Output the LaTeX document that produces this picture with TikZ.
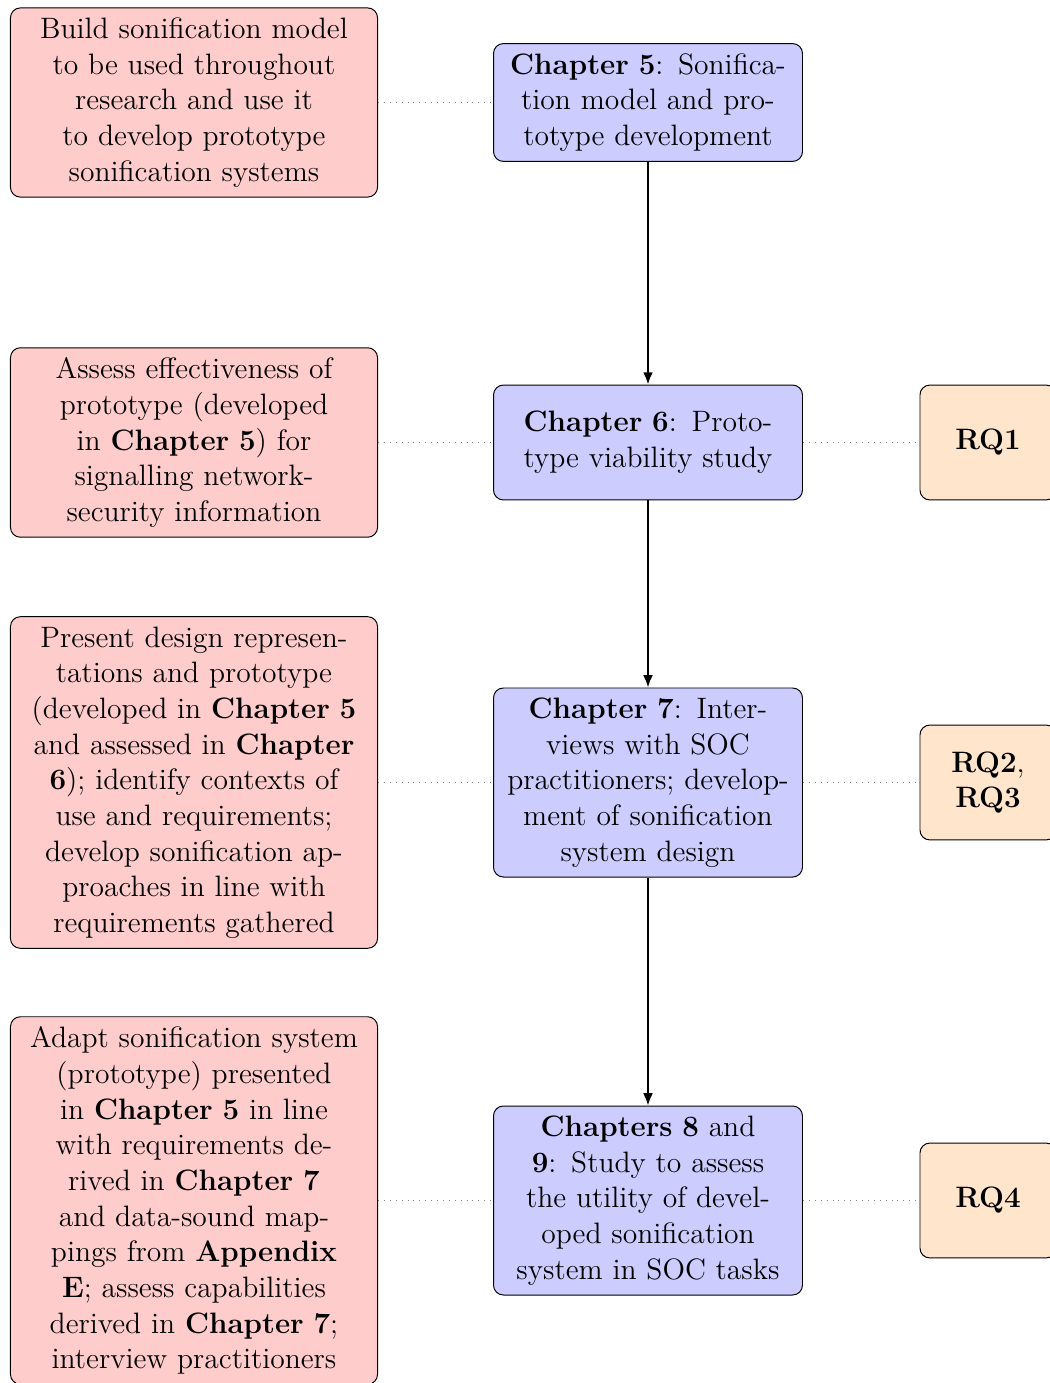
\documentclass[12pt,tikz,border=0pt]{standalone}
\usetikzlibrary{arrows.meta}
\begin{document}
\begin{tikzpicture}[x=0.4065pt, y=-0.4065pt,
  box/.style={draw=black, rounded corners=4pt, align=center, inner sep=4pt, line width=0.4pt},
  goalbox/.style={box, fill=red!20, text width=141.2pt},
  chapbox/.style={box, fill=blue!20, text width=117.6pt, minimum height=46.7pt},
  rqbox/.style={box, fill=orange!20, minimum width=55.3pt, minimum height=46.7pt},
  flow/.style={thick, -{Latex[length=5pt,width=4pt]}},
  linkline/.style={dotted, gray}]
\useasboundingbox (0,0) rectangle (1049,1383);

% left column: aims of each stage
\node[goalbox] (goal1) at (194,102.5) {Build sonification model\\ to be used throughout\\ research and use it\\ to develop prototype\\ sonification systems};
\node[goalbox] (goal2) at (194,442.5) {Assess effectiveness of\\ prototype (developed\\ in \textbf{Chapter 5}) for\\ signalling network-\\ security information};
\node[goalbox] (goal3) at (194,782.5) {Present design represen-\\ tations and prototype\\ (developed in \textbf{Chapter 5}\\ and assessed in \textbf{Chapter}\\ \textbf{6}); identify contexts of\\ use and requirements;\\ develop sonification ap-\\ proaches in line with\\ requirements gathered};
\node[goalbox] (goal4) at (194,1200.5) {Adapt sonification system\\ (prototype) presented\\ in \textbf{Chapter 5} in line\\ with requirements de-\\ rived in \textbf{Chapter 7}\\ and data-sound map-\\ pings from \textbf{Appendix}\\ \textbf{E}; assess capabilities\\ derived in \textbf{Chapter 7};\\ interview practitioners};

% middle column: chapters
\node[chapbox] (ch5) at (648,102.5) {\textbf{Chapter 5}: Sonifica-\\ tion model and pro-\\ totype development};
\node[chapbox] (ch6) at (648,442.5) {\textbf{Chapter 6}: Proto-\\ type viability study};
\node[chapbox] (ch7) at (648,782.5) {\textbf{Chapter 7}: Inter-\\ views with SOC\\ practitioners; develop-\\ ment of sonification\\ system design};
\node[chapbox] (ch89) at (648,1200.5) {\textbf{Chapters 8} and\\ \textbf{9}: Study to assess\\ the utility of devel-\\ oped sonification\\ system in SOC tasks};

% right column: research questions
\node[rqbox] (rq1) at (988,442.5) {\textbf{RQ1}};
\node[rqbox] (rq23) at (988,782.5) {\textbf{RQ2},\\ \textbf{RQ3}};
\node[rqbox] (rq4) at (988,1200.5) {\textbf{RQ4}};

% chapter sequence
\draw[flow] (ch5) -- (ch6);
\draw[flow] (ch6) -- (ch7);
\draw[flow] (ch7) -- (ch89);

% links between columns
\draw[linkline] (goal1) -- (ch5);
\draw[linkline] (goal2) -- (ch6);
\draw[linkline] (goal3) -- (ch7);
\draw[linkline] (goal4) -- (ch89);
\draw[linkline] (ch6) -- (rq1);
\draw[linkline] (ch7) -- (rq23);
\draw[linkline] (ch89) -- (rq4);
\end{tikzpicture}
\end{document}
